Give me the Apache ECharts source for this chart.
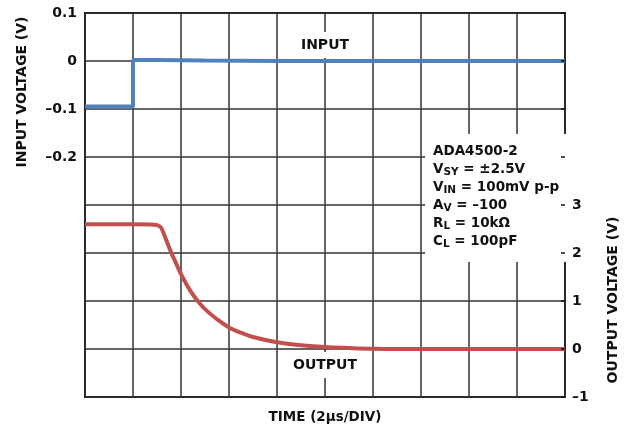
<!DOCTYPE html>
<html lang="en">
<head>
  <meta charset="UTF-8">
  <title>ADA4500-2 negative overload recovery</title>
  <script src="https://cdn.jsdelivr.net/npm/echarts@6/dist/echarts.min.js"></script>
  <style>
    html, body { margin: 0; padding: 0; background: #fff; }
    #main { width: 637px; height: 431px; }
  </style>
</head>
<body>
<div id="main"></div>
<script>
  // time in µs (2 µs per division)
  var inputTime = [0, 2, 2, 3, 5, 8, 20];
  var inputVolt = [-0.095, -0.095, 0.002, 0.002, 0.001, 0, 0];

  var outputTime = [0, 2, 2.9, 3.1, 3.2, 3.4, 3.6, 3.8, 4.0, 4.25, 4.5, 4.75, 5.0, 5.5, 6.0, 6.5, 7.0, 8.0, 9.0, 10.0, 11.0, 12.0, 13.0, 20];
  var outputVolt = [2.6, 2.6, 2.59, 2.56, 2.5, 2.25, 2.0, 1.78, 1.56, 1.33, 1.13, 0.97, 0.83, 0.62, 0.45, 0.34, 0.25, 0.14, 0.08, 0.04, 0.02, 0.005, 0, 0];

  var leftTicks = ['0.1', '0', '–0.1', '–0.2'];
  var rightTicks = ['3', '2', '1', '0', '–1'];

  var font = '"DejaVu Sans", "Liberation Sans", Arial, sans-serif';
  var blue = '#4f81bd';
  var red = '#c0504d';

  function pair(t, v) {
    return t.map(function (x, i) { return [x, v[i]]; });
  }

  function fmt(v) {
    var s = String(+v.toFixed(1));
    return s.replace('-', '–');
  }

  var myChart = echarts.init(document.getElementById('main'));

  myChart.setOption({
    backgroundColor: '#fff',
    animation: false,
    textStyle: {fontFamily: font},
    grid: {
      left: 85, right: 72, top: 13, bottom: 34,
      show: true,
      borderColor: '#111',
      borderWidth: 2,
      outerBoundsMode: 'none'
    },
    xAxis: {
      type: 'value',
      min: 0, max: 20, interval: 2,
      axisLine: {show: false},
      axisTick: {show: false},
      axisLabel: {show: false},
      splitLine: {show: true, lineStyle: {color: '#333', width: 1.5}}
    },
    yAxis: [
      {
        type: 'value',
        min: -0.7, max: 0.1, interval: 0.1,
        axisLine: {show: false},
        axisTick: {show: false},
        splitLine: {show: true, lineStyle: {color: '#333', width: 1.5}},
        axisLabel: {
          margin: 8,
          color: '#111', fontSize: 14, fontWeight: 'bold', fontFamily: font,
          formatter: function (v) {
            var s = fmt(v);
            return leftTicks.indexOf(s) >= 0 ? s : '';
          }
        }
      },
      {
        type: 'value',
        position: 'right',
        min: -1, max: 7, interval: 1,
        z: 5,
        axisLine: {show: false},
        axisTick: {show: true, inside: true, length: 4, lineStyle: {color: '#111', width: 1.5}},
        splitLine: {show: false},
        axisLabel: {
          margin: 7,
          color: '#111', fontSize: 14, fontWeight: 'bold', fontFamily: font,
          formatter: function (v) {
            var s = fmt(v);
            return rightTicks.indexOf(s) >= 0 ? s : '';
          }
        }
      }
    ],
    graphic: [
      {
        type: 'rect', z: 3, silent: true,
        shape: {x: 425, y: 134, width: 141, height: 128},
        style: {fill: '#fff'}
      },
      {
        type: 'text', z: 6, left: 433, top: 142,
        style: {
          text: [
            'ADA4500-2',
            'V{s|SY} = ±2.5V',
            'V{s|IN} = 100mV p-p',
            'A{s|V} = –100',
            'R{s|L} = 10kΩ',
            'C{s|L} = 100pF'
          ].join('\n'),
          font: 'bold 13.5px ' + font,
          fill: '#111',
          lineHeight: 18,
          rich: {
            s: {fontSize: 10.5, fontWeight: 'bold', fontFamily: font, fill: '#111', padding: [7, 0, 0, 0], lineHeight: 18}
          }
        }
      },
      {
        type: 'text', z: 6, x: 325, y: 45,
        style: {
          text: 'INPUT', font: 'bold 14px ' + font, fill: '#111',
          align: 'center', verticalAlign: 'middle',
          backgroundColor: '#fff', padding: [6, 3, 6, 3]
        }
      },
      {
        type: 'text', z: 6, x: 325, y: 365,
        style: {
          text: 'OUTPUT', font: 'bold 14px ' + font, fill: '#111',
          align: 'center', verticalAlign: 'middle',
          backgroundColor: '#fff', padding: [6, 3, 6, 3]
        }
      },
      {
        type: 'text', x: 325, y: 417,
        style: {
          text: 'TIME (2µs/DIV)', font: 'bold 13.5px ' + font, fill: '#111',
          align: 'center', verticalAlign: 'middle'
        }
      },
      {
        type: 'text', x: 22, y: 92, rotation: Math.PI / 2,
        style: {
          text: 'INPUT VOLTAGE (V)', font: 'bold 14px ' + font, fill: '#111',
          align: 'center', verticalAlign: 'middle'
        }
      },
      {
        type: 'text', x: 613, y: 300, rotation: Math.PI / 2,
        style: {
          text: 'OUTPUT VOLTAGE (V)', font: 'bold 14px ' + font, fill: '#111',
          align: 'center', verticalAlign: 'middle'
        }
      }
    ],
    series: [
      {
        name: 'INPUT',
        type: 'line',
        yAxisIndex: 0,
        data: pair(inputTime, inputVolt),
        showSymbol: false,
        lineStyle: {color: blue, width: 4}
      },
      {
        name: 'OUTPUT',
        type: 'line',
        yAxisIndex: 1,
        data: pair(outputTime, outputVolt),
        showSymbol: false,
        smooth: 0.4,
        lineStyle: {color: red, width: 4}
      }
    ]
  });
</script>
</body>
</html>
